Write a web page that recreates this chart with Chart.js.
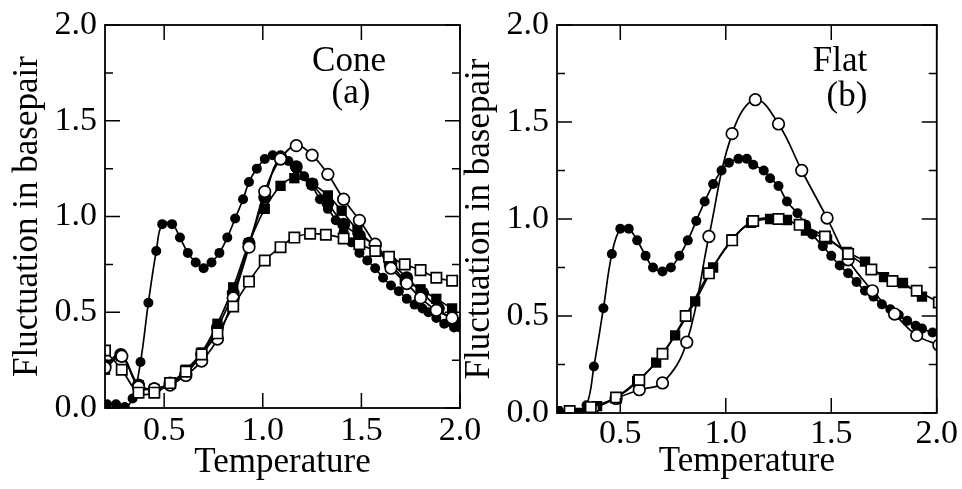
<!DOCTYPE html>
<html>
<head>
<meta charset="utf-8">
<title>Fluctuation in basepair</title>
<script src="https://cdn.jsdelivr.net/npm/chart.js@4.4.1/dist/chart.umd.min.js"></script>
<style>
  html, body { margin: 0; padding: 0; background: #fff; }
  #wrap { position: relative; width: 962px; height: 489px; }
  #wrap canvas { position: absolute; left: 0; top: 0; }
</style>
</head>
<body>
<div id="wrap">
  <canvas id="cone" width="962" height="489"></canvas>
  <canvas id="flat" width="962" height="489"></canvas>
</div>
<script>
// ── Axis ticks and labels ─────────────────────────────────────────
const X_TICKS = [0.5, 1.0, 1.5, 2.0];
const Y_TICKS = [0, 0.5, 1.0, 1.5, 2.0];
const Y_MINOR = [0.25, 0.75, 1.25, 1.75];
const X_TITLE = 'Temperature';
const Y_TITLE = 'Fluctuation in basepair';

// ── Panel (a): Cone ── [temperature, fluctuation]
const coneDense = [
  [0.21,0.02],[0.256,0.02],[0.30,0.005],[0.34,0.05],[0.38,0.24],[0.42,0.55],[0.46,0.82],[0.49,0.96],
  [0.54,0.96],[0.58,0.89],[0.62,0.81],[0.66,0.76],[0.70,0.73],[0.74,0.76],[0.78,0.81],[0.82,0.89],
  [0.86,0.99],[0.90,1.09],[0.93,1.18],[0.97,1.25],[1.01,1.30],[1.05,1.32],[1.09,1.32],[1.13,1.29],
  [1.17,1.25],[1.21,1.21],[1.25,1.16],[1.29,1.09],[1.33,1.04],[1.37,0.98],[1.41,0.92],[1.45,0.865],
  [1.49,0.81],[1.53,0.77],[1.57,0.73],[1.61,0.68],[1.65,0.64],[1.69,0.61],[1.73,0.57],[1.77,0.54],
  [1.81,0.52],[1.84,0.50],[1.88,0.47],[1.92,0.44],[1.97,0.42],[2.0,0.42]
];
const coneBig = [
  [0.2,0.22],[0.28,0.28],[0.37,0.12],[0.45,0.10],[0.53,0.13],[0.61,0.18],[0.69,0.28],[0.77,0.42],
  [0.85,0.60],[0.93,0.86],[1.01,1.10],[1.09,1.31],[1.17,1.26],[1.25,1.17],[1.33,1.07],[1.41,0.96],
  [1.49,0.90],[1.57,0.85],[1.65,0.76],[1.73,0.68],[1.81,0.60],[1.89,0.52],[1.97,0.45]
];
const coneOpenCircle = [
  [0.2,0.21],[0.285,0.27],[0.37,0.11],[0.45,0.10],[0.53,0.12],[0.61,0.17],[0.69,0.245],[0.77,0.36],
  [0.85,0.575],[0.93,0.84],[1.01,1.13],[1.09,1.30],[1.17,1.37],[1.25,1.32],[1.33,1.22],[1.41,1.09],
  [1.49,0.98],[1.57,0.855],[1.65,0.73],[1.73,0.65],[1.80,0.575],[1.88,0.51],[1.96,0.47]
];
const coneFilledSquare = [
  [0.2,0.20],[0.28,0.27],[0.37,0.12],[0.45,0.10],[0.53,0.13],[0.61,0.20],[0.69,0.29],[0.77,0.44],
  [0.85,0.63],[0.93,0.86],[1.01,1.04],[1.09,1.16],[1.16,1.20],[1.25,1.17],[1.33,1.11],[1.40,1.03],
  [1.48,0.93],[1.57,0.84],[1.64,0.76],[1.72,0.67],[1.80,0.62],[1.88,0.57],[1.96,0.52]
];
const coneOpenSquare = [
  [0.2,0.30],[0.285,0.20],[0.37,0.08],[0.45,0.08],[0.53,0.13],[0.61,0.19],[0.69,0.28],[0.77,0.39],
  [0.85,0.53],[0.93,0.66],[1.01,0.77],[1.09,0.84],[1.16,0.89],[1.24,0.91],[1.32,0.905],[1.41,0.885],
  [1.49,0.855],[1.57,0.82],[1.64,0.79],[1.72,0.75],[1.80,0.72],[1.88,0.68],[1.96,0.665]
];

// ── Panel (b): Flat ──
const flatDense = [
  [0.21,0.01],[0.26,0.01],[0.29,0.0],[0.34,0.04],[0.375,0.24],[0.42,0.54],[0.46,0.82],[0.50,0.95],
  [0.54,0.95],[0.58,0.89],[0.62,0.81],[0.655,0.75],[0.70,0.73],[0.74,0.75],[0.78,0.81],[0.82,0.89],
  [0.86,0.99],[0.90,1.09],[0.94,1.18],[0.98,1.25],[1.015,1.29],[1.06,1.31],[1.10,1.31],[1.13,1.28],
  [1.18,1.25],[1.21,1.21],[1.25,1.17],[1.29,1.09],[1.34,1.03],[1.38,0.97],[1.41,0.92],[1.46,0.86],
  [1.50,0.81],[1.54,0.76],[1.58,0.72],[1.62,0.675],[1.66,0.63],[1.70,0.60],[1.74,0.56],[1.78,0.535],
  [1.82,0.505],[1.86,0.475],[1.90,0.45],[1.93,0.435],[1.98,0.415]
];
const flatOpenCircle = [
  [0.26,0.0],[0.37,0.025],[0.48,0.075],[0.59,0.12],[0.70,0.155],[0.815,0.365],[0.92,0.91],[1.03,1.44],
  [1.14,1.615],[1.25,1.49],[1.36,1.25],[1.48,1.005],[1.58,0.79],[1.695,0.63],[1.80,0.51],[1.905,0.40],
  [2.01,0.35]
];
const flatFilledSquare = [
  [0.2,0.01],[0.295,0.0],[0.39,0.035],[0.48,0.08],[0.58,0.165],[0.67,0.26],[0.76,0.40],[0.855,0.575],
  [0.94,0.75],[1.03,0.895],[1.12,0.98],[1.21,1.0],[1.29,0.995],[1.38,0.94],[1.48,0.895],[1.575,0.83],
  [1.66,0.78],[1.75,0.70],[1.84,0.67],[1.93,0.60]
];
const flatOpenSquare = [
  [0.26,0.01],[0.36,0.03],[0.48,0.08],[0.59,0.17],[0.70,0.305],[0.81,0.50],[0.92,0.72],[1.03,0.89],
  [1.13,0.99],[1.25,1.0],[1.35,0.97],[1.47,0.91],[1.58,0.82],[1.69,0.74],[1.79,0.68],[1.905,0.63],
  [2.01,0.57]
];

const PANEL_LABELS = { cone: ['Cone', '(a)'], flat: ['Flat', '(b)'] };

const SERIF = "'Liberation Serif', 'Times New Roman', serif";

// ── Marker styles ─────────────────────────────────────────────────
const MARKERS = {
  dense: { pointStyle: 'circle', pointRadius: 5,   pointBackgroundColor: '#000', pointBorderWidth: 0 },
  big:   { pointStyle: 'circle', pointRadius: 6.5, pointBackgroundColor: '#000', pointBorderWidth: 0 },
  ocirc: { pointStyle: 'circle', pointRadius: 5.8, pointBackgroundColor: '#fff', pointBorderWidth: 1.7 },
  fsq:   { pointStyle: 'rect',   pointRadius: 7.3, pointBackgroundColor: '#000', pointBorderWidth: 0 },
  osq:   { pointStyle: 'rect',   pointRadius: 7.3, pointBackgroundColor: '#fff', pointBorderWidth: 1.7 },
};

function series(points, marker) {
  return Object.assign({
    data: points.map(([x, y]) => ({ x, y })),
    showLine: true,
    borderColor: '#000',
    borderWidth: 1.7,
    tension: 0.4,
    pointBorderColor: '#000',
    pointHoverRadius: 0,
  }, MARKERS[marker]);
}

// inward ticks on all four sides, plus the frame and the panel label
const frameTicks = {
  id: 'frameTicks',
  afterDraw(chart) {
    const { ctx, chartArea: a, scales: { x, y } } = chart;
    ctx.save();
    ctx.strokeStyle = '#000';
    ctx.lineWidth = 1.5;
    ctx.beginPath();
    X_TICKS.forEach(v => {
      const px = x.getPixelForValue(v);
      ctx.moveTo(px, a.bottom); ctx.lineTo(px, a.bottom - 15);
      ctx.moveTo(px, a.top);    ctx.lineTo(px, a.top + 15);
    });
    Y_TICKS.forEach(v => {
      const py = y.getPixelForValue(v);
      ctx.moveTo(a.left, py);  ctx.lineTo(a.left + 15, py);
      ctx.moveTo(a.right, py); ctx.lineTo(a.right - 15, py);
    });
    Y_MINOR.forEach(v => {
      const py = y.getPixelForValue(v);
      ctx.moveTo(a.left, py);  ctx.lineTo(a.left + 8, py);
      ctx.moveTo(a.right, py); ctx.lineTo(a.right - 8, py);
    });
    ctx.stroke();
    ctx.lineWidth = 1.8;
    ctx.strokeRect(a.left, a.top, a.width, a.height);

    const lab = chart.options.plugins.frameTicks;
    ctx.fillStyle = '#000';
    ctx.font = `35px ${SERIF}`;
    ctx.textAlign = 'center';
    ctx.textBaseline = 'alphabetic';
    ctx.fillText(lab.text[0], a.left + lab.dx[0], a.top + 46);
    ctx.fillText(lab.text[1], a.left + lab.dx[1], a.top + lab.dy);
    ctx.restore();
  }
};

function makeChart(id, datasets, geo) {
  return new Chart(document.getElementById(id), {
    type: 'scatter',
    data: { datasets },
    plugins: [frameTicks],
    options: {
      responsive: false,
      animation: false,
      devicePixelRatio: 1,
      layout: { padding: { left: geo.padLeft, right: geo.padRight, top: 22, bottom: 0 } },
      scales: {
        x: {
          type: 'linear', min: 0.2, max: 2.0,
          afterBuildTicks: s => { s.ticks = X_TICKS.map(v => ({ value: v })); },
          afterFit: s => { s.height = geo.xHeight; },
          grid: { drawOnChartArea: false, drawTicks: false },
          border: { display: false },
          ticks: {
            color: '#000', padding: geo.xTickPad, maxRotation: 0, autoSkip: false,
            font: { family: SERIF, size: 34, lineHeight: 1 },
            callback: v => Number(v).toFixed(1)
          },
          title: {
            display: true, text: X_TITLE, color: '#000',
            font: { family: SERIF, size: 35, lineHeight: 1 },
            padding: { top: 0, bottom: geo.xTitlePad }
          }
        },
        y: {
          type: 'linear', min: 0, max: 2.0,
          afterBuildTicks: s => { s.ticks = Y_TICKS.map(v => ({ value: v })); },
          afterFit: s => { s.width = 105; },
          grid: { drawOnChartArea: false, drawTicks: false },
          border: { display: false },
          ticks: {
            color: '#000', padding: 8,
            font: { family: SERIF, size: 34, lineHeight: 1 },
            callback: v => Number(v).toFixed(1)
          },
          title: {
            display: true, text: Y_TITLE, color: '#000',
            font: { family: SERIF, size: 35, lineHeight: 1 },
            padding: { top: 10.5, bottom: 0 }
          }
        }
      },
      plugins: {
        legend: { display: false },
        tooltip: { enabled: false },
        frameTicks: geo.label
      }
    }
  });
}

makeChart('cone', [
  series(coneOpenSquare, 'osq'),
  series(coneOpenCircle, 'ocirc'),
  series(coneFilledSquare, 'fsq'),
  series(coneBig, 'big'),
  series(coneDense, 'dense'),
], {
  padLeft: 0, padRight: 962 - 460, xHeight: 81, xTickPad: 6, xTitlePad: 8.5,
  label: { text: PANEL_LABELS.cone, dx: [244, 246], dy: 78 }
});

makeChart('flat', [
  series(flatOpenSquare, 'osq'),
  series(flatOpenCircle, 'ocirc'),
  series(flatFilledSquare, 'fsq'),
  series(flatDense, 'dense'),
], {
  padLeft: 452, padRight: 962 - 937, xHeight: 76, xTickPad: 4, xTitlePad: 9.5,
  label: { text: PANEL_LABELS.flat, dx: [283, 290], dy: 81 }
});
</script>
</body>
</html>
